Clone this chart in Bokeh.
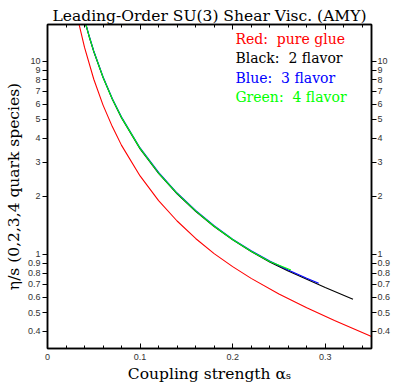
from bokeh.plotting import figure
from bokeh.models import LinearAxis, LogAxis, FixedTicker, Label, NumeralTickFormatter
from bokeh.embed import file_html
from bokeh.resources import INLINE

# ---------------- data ----------------
title_text = "Leading-Order SU(3) Shear Visc. (AMY)"
x_label = "Coupling strength \u03b1\u209b"
y_label = "\u03b7/s (0,2,3,4 quark species)"

x_range = (0.0, 0.35)
y_range = (0.326, 15.5)

x_major = [0.0, 0.1, 0.2, 0.3]
x_major_labels = ["0", "0.1", "0.2", "0.3"]
x_minor = [0.02, 0.04, 0.06, 0.08, 0.12, 0.14, 0.16, 0.18, 0.22, 0.24, 0.26, 0.28, 0.32, 0.34]
y_ticks = [0.4, 0.5, 0.6, 0.7, 0.8, 0.9, 1, 2, 3, 4, 5, 6, 7, 8, 9, 10]

# pure glue (red)
alpha_red = [0.034, 0.04, 0.05, 0.06, 0.07, 0.08, 0.10, 0.12, 0.14, 0.16, 0.18, 0.20, 0.22, 0.25, 0.28, 0.31, 0.35]
eta_red = [15.6, 11.8, 8.07, 5.93, 4.59, 3.67, 2.55, 1.90, 1.49, 1.21, 1.01, 0.865, 0.752, 0.624, 0.530, 0.455, 0.376]

# 2 flavor (black)
alpha_black = [0.041, 0.045, 0.05, 0.06, 0.07, 0.08, 0.10, 0.12, 0.14, 0.16, 0.18, 0.20, 0.22, 0.24, 0.26, 0.28, 0.30, 0.33]
eta_black = [15.7, 13.4, 11.2, 8.23, 6.35, 5.09, 3.52, 2.63, 2.06, 1.67, 1.395, 1.19, 1.035, 0.915, 0.82, 0.745, 0.675, 0.587]

# 3 flavor (blue)
alpha_blue = [0.041, 0.045, 0.05, 0.06, 0.07, 0.08, 0.10, 0.12, 0.14, 0.16, 0.18, 0.20, 0.22, 0.24, 0.26, 0.28, 0.293]
eta_blue = [15.9, 13.55, 11.3, 8.31, 6.41, 5.14, 3.56, 2.66, 2.08, 1.69, 1.41, 1.20, 1.045, 0.925, 0.83, 0.753, 0.71]

# 4 flavor (green)
alpha_green = [0.041, 0.045, 0.05, 0.06, 0.07, 0.08, 0.10, 0.12, 0.14, 0.16, 0.18, 0.20, 0.22, 0.24, 0.263]
eta_green = [15.8, 13.47, 11.25, 8.27, 6.38, 5.11, 3.54, 2.64, 2.07, 1.68, 1.40, 1.195, 1.04, 0.92, 0.83]

legend_texts = ["Red:\u00a0 pure glue", "Black:\u00a0 2 flavor", "Blue:\u00a0 3 flavor", "Green:\u00a0 4 flavor"]
legend_colors = ["#ff0000", "#000000", "#0000ff", "#00ff00"]
legend_eta = [13.0, 10.36, 8.16, 6.51]
legend_alpha = 0.203

# ---------------- figure ----------------
SERIF = "DejaVu Serif"
SANS = "Liberation Sans"

p = figure(width=393, height=385, x_range=x_range, y_range=y_range,
           y_axis_type="log", output_backend="svg", toolbar_location=None,
           min_border_left=47, min_border_right=19, min_border_top=24, min_border_bottom=37)
p.grid.visible = False
p.background_fill_color = "white"
p.border_fill_color = "white"
p.outline_line_color = "black"
p.outline_line_width = 1.5

p.title.text = title_text
p.title.align = "center"
p.title.text_font = SERIF
p.title.text_font_size = "15.5px"
p.title.text_font_style = "normal"
p.title.text_color = "black"
p.title.offset = -3
p.title.standoff = 0

x_ticker = FixedTicker(ticks=x_major, minor_ticks=x_minor)
y_ticker = FixedTicker(ticks=y_ticks, minor_ticks=[])
x_over = {t: l for t, l in zip(x_major, x_major_labels)}

def style_common(ax):
    ax.axis_line_color = "black"
    ax.axis_line_width = 1.5
    ax.major_tick_line_color = "black"
    ax.minor_tick_line_color = "black"
    ax.major_tick_line_width = 1
    ax.minor_tick_line_width = 1
    ax.major_label_text_font = SANS
    ax.major_label_text_font_size = "9px"
    ax.major_label_text_color = "#333333"
    ax.axis_label_text_font = SERIF
    ax.axis_label_text_font_size = "15.5px"
    ax.axis_label_text_font_style = "normal"
    ax.axis_label_text_color = "black"

# bottom axis
xb = p.xaxis[0]
xb.ticker = x_ticker
xb.major_label_overrides = x_over
style_common(xb)
xb.major_tick_in = 5
xb.major_tick_out = 0
xb.minor_tick_in = 3
xb.minor_tick_out = 0
xb.major_label_standoff = 5
xb.axis_label = x_label
xb.axis_label_standoff = 2

# top axis (ticks only)
xt = LinearAxis(ticker=x_ticker, major_label_overrides={t: "" for t in x_major})
style_common(xt)
xt.major_tick_in = 5
xt.major_tick_out = 0
xt.minor_tick_in = 3
xt.minor_tick_out = 0
xt.major_label_standoff = 0
xt.axis_label_standoff = 0
xt.major_label_text_font_size = "0px"
p.add_layout(xt, "above")

# left axis
yl = p.yaxis[0]
yl.ticker = y_ticker
yl.formatter = NumeralTickFormatter(format="0[.]0")
style_common(yl)
yl.major_tick_in = 0
yl.major_tick_out = 5
yl.minor_tick_in = 0
yl.minor_tick_out = 0
yl.major_label_standoff = 2
yl.axis_label = y_label
yl.axis_label_standoff = 2

# right axis
yr = LogAxis(ticker=y_ticker, formatter=NumeralTickFormatter(format="0[.]0"))
style_common(yr)
yr.major_tick_in = 0
yr.major_tick_out = 5
yr.minor_tick_in = 0
yr.minor_tick_out = 0
yr.major_label_standoff = 1
p.add_layout(yr, "right")

# curves
p.line(alpha_red, eta_red, line_color="#ff0000", line_width=1.1)
p.line(alpha_black, eta_black, line_color="#000000", line_width=1.1)
p.line(alpha_blue, eta_blue, line_color="#0000ff", line_width=1.1)
p.line(alpha_green, eta_green, line_color="#00ff00", line_width=1.1)

# legend texts
for txt, col, yv in zip(legend_texts, legend_colors, legend_eta):
    p.add_layout(Label(x=legend_alpha, y=yv, text=txt, text_align="left", text_baseline="middle",
                       text_font=SERIF, text_font_size="14px", text_color=col))

open("out.html", "w").write(file_html(p, INLINE))
